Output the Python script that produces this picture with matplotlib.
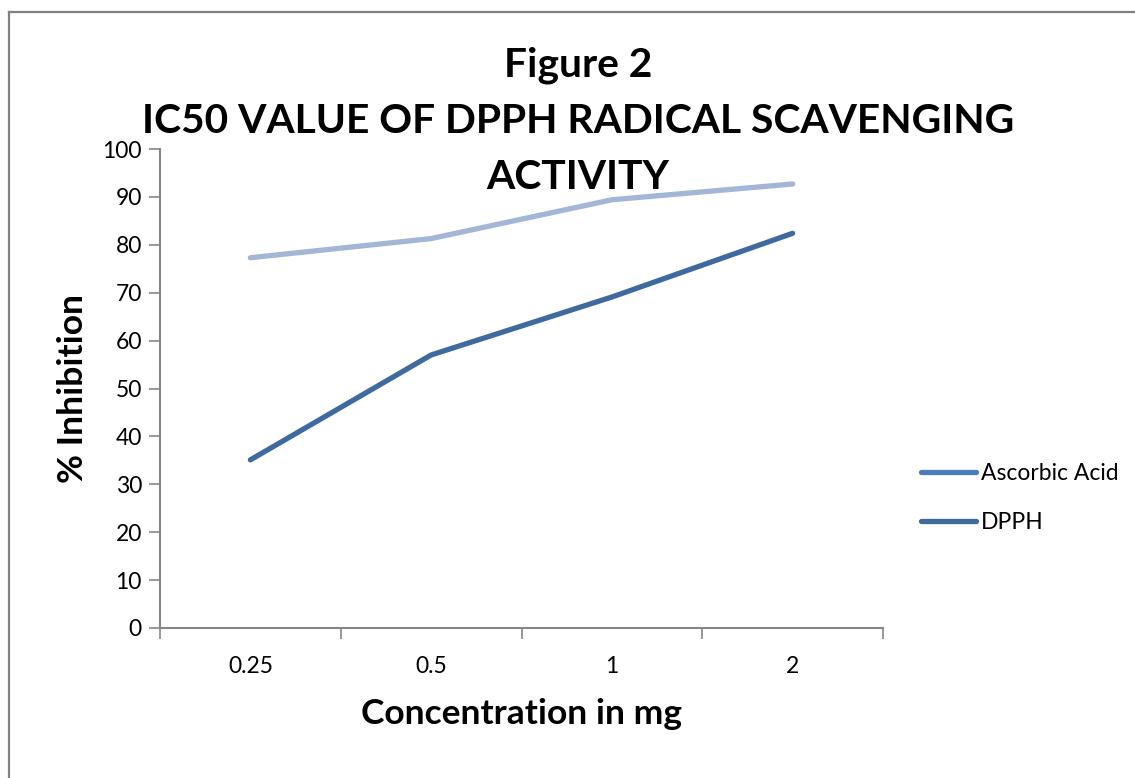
import numpy as np
import matplotlib.pyplot as plt
from matplotlib.lines import Line2D
from matplotlib import font_manager

# data
concentrations = ["0.25", "0.5", "1", "2"]
ascorbic_acid = [77.3, 81.3, 89.4, 92.7]
dpph = [35.1, 57.0, 69.1, 82.4]

names = {f.name for f in font_manager.fontManager.ttflist}
fam = "Liberation Sans Narrow" if "Liberation Sans Narrow" in names else "Lato"
plt.rcParams['font.family'] = [fam, 'DejaVu Sans']

W, H = 1135, 778
fig = plt.figure(figsize=(W / 100, H / 100), dpi=100)
ax = fig.add_axes([160 / W, 1 - 628 / H, (883 - 160) / W, (628 - 149) / H])

x = np.arange(len(concentrations))
ax.plot(x, ascorbic_acid, color="#a4b6d6", lw=3.8, solid_capstyle="round",
        solid_joinstyle="round", zorder=3)
ax.plot(x, dpph, color="#3f6a9f", lw=3.8, solid_capstyle="round",
        solid_joinstyle="round", zorder=3)

ax.set_xlim(-0.5, len(concentrations) - 0.5)
ax.set_ylim(0, 100)
ax.set_yticks(range(0, 101, 10))

# category labels in the middle, tick marks on the boundaries
ax.set_xticks(x)
ax.set_xticklabels(concentrations)
ax.tick_params(axis="x", which="major", length=0, pad=20, labelsize=16.5)
ax.set_xticks(np.arange(-0.5, len(concentrations)), minor=True)
ax.tick_params(axis="x", which="minor", length=8, width=1.2, color="#868686",
               direction="out")
ax.tick_params(axis="y", length=8, width=1.2, color="#868686", labelsize=16.5, pad=5)

for s in ["top", "right"]:
    ax.spines[s].set_visible(False)
for s in ["left", "bottom"]:
    ax.spines[s].set_color("#868686")
    ax.spines[s].set_linewidth(1.5)

ax.set_xlabel("Concentration in mg", fontsize=25.5, fontweight="bold", labelpad=15)
ax.set_ylabel("% Inhibition", fontsize=25.5, fontweight="bold", labelpad=10)

fig.text(578 / W, 1 - 121 / H,
         "Figure 2\nIC50 VALUE OF DPPH RADICAL SCAVENGING\nACTIVITY",
         ha="center", va="center", fontsize=29.3, fontweight="bold",
         linespacing=1.63)

handles = [Line2D([], [], color="#4a7ebb", lw=3.8, solid_capstyle="round"),
           Line2D([], [], color="#3f6a9f", lw=3.8, solid_capstyle="round")]
fig.legend(handles, ["Ascorbic Acid", "DPPH"], loc="center left",
           bbox_to_anchor=(900 / W, 1 - 498 / H), frameon=False, fontsize=16.5,
           handlelength=2.4, handletextpad=0.25, labelspacing=1.25)

# outer chart frame
fig.add_artist(Line2D([9 / W, 9 / W], [0, 1 - 12 / H], color="#808080", lw=1.6,
                      transform=fig.transFigure))
fig.add_artist(Line2D([9 / W, 1], [1 - 12 / H, 1 - 12 / H], color="#808080", lw=1.6,
                      transform=fig.transFigure))

fig.savefig("out.png", dpi=100)
